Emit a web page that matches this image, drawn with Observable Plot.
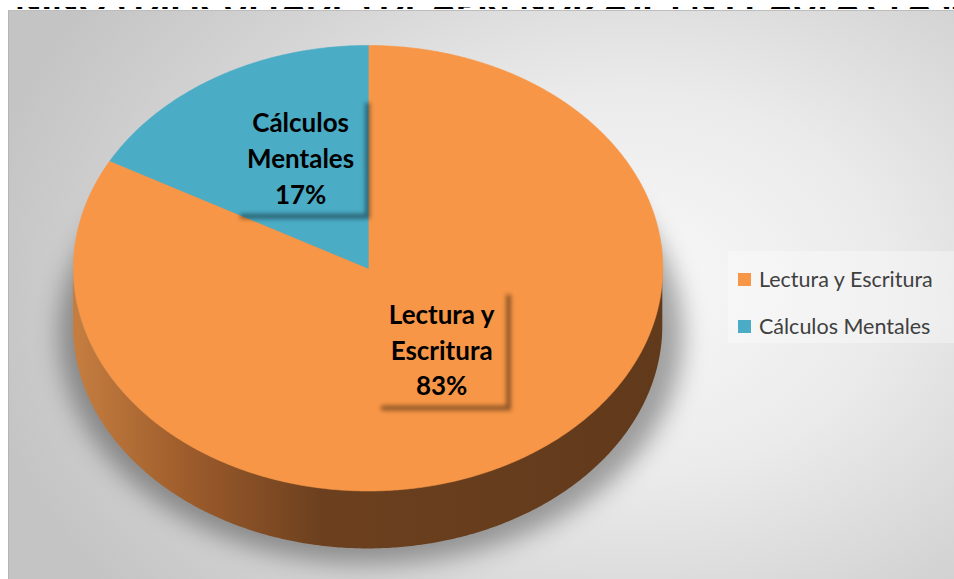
<!DOCTYPE html>
<html><head><meta charset="utf-8">
<script src="https://cdn.jsdelivr.net/npm/d3@7"></script>
<script src="https://cdn.jsdelivr.net/npm/@observablehq/plot@0.6"></script>
<style>
html,body{margin:0;padding:0;background:#fff;width:954px;height:579px;overflow:hidden;font-family:Lato,"Open Sans",sans-serif}
#title{position:absolute;left:0;top:0;width:954px;height:9px;overflow:hidden}
#chart{position:absolute;left:8px;top:10px;width:946px;height:569px;box-sizing:border-box;border-left:1px solid #b5b5b5;border-top:1px solid #bdbdbd;
  background:radial-gradient(ellipse 70% 88% at 66% 48%, #f8f8f8 0%, #ebebeb 38%, #d4d4d4 72%, #c4c4c4 100%);overflow:hidden}
#chart svg{position:absolute;left:0;top:0}
#legend{position:absolute;left:719px;top:240px;width:227px;height:92px;background:rgba(255,255,255,0.35)}
.item{position:absolute;left:10px;display:flex;align-items:center;height:28px;font-size:21.5px;color:#404040;white-space:nowrap}
.sw{width:13px;height:13px;margin-right:8px}
</style></head>
<body>
<div id="title"></div>
<div id="chart"><div id="legend"></div></div>
<script>
const title = "NIÑOS DIFICULTADES DE APRENDIZAJE EN EL AULA CLASE";
const categories = ["Lectura y Escritura", "Cálculos Mentales"];
const values = [83, 17];
const colors = ["#F79646", "#4BACC6"];
const labelNames = ["Lectura y\nEscritura", "Cálculos\nMentales"];

// title (clipped at top like the reference)
document.getElementById("title").innerHTML =
  `<svg width="954" height="9"><text x="15" y="7.5" font-family="Lato" font-weight="900" font-size="30" textLength="955" lengthAdjust="spacingAndGlyphs" fill="#000">${title}</text></svg>`;

// geometry (pixels inside the plot svg)
const W = 946, H = 569;
const cx = 359, cy = 257, rx = 295, ry = 223, depth = 58;
const d = depth / ry;
const total = d3.sum(values);

let acc = 0;
const slices = categories.map((c, i) => {
  const a0 = acc / total * 2 * Math.PI; acc += values[i];
  const a1 = acc / total * 2 * Math.PI;
  return {c, i, a0, a1, v: values[i]};
});

const step = Math.PI / 360;
const facePts = slices.flatMap(s => {
  const n = Math.max(2, Math.ceil((s.a1 - s.a0) / step));
  const pts = [{c: s.c, x: 0, y: 0}];
  for (let k = 0; k <= n; k++) { const a = s.a0 + (s.a1 - s.a0) * k / n; pts.push({c: s.c, x: Math.sin(a), y: Math.cos(a)}); }
  return pts;
});

const sidePts = slices.flatMap(s => {
  const lo = Math.max(s.a0, Math.PI / 2), hi = Math.min(s.a1, 3 * Math.PI / 2);
  if (hi <= lo) return [];
  const n = Math.max(2, Math.ceil((hi - lo) / step));
  const pts = [];
  for (let k = 0; k <= n; k++) { const a = lo + (hi - lo) * k / n; pts.push({c: s.c, x: Math.sin(a), y1: Math.cos(a), y2: Math.cos(a) - d}); }
  return pts;
});

// soft shadow under the pie
const shadowPts = d3.range(0, 2 * Math.PI, step).map(a => ({
  x: 3 / rx + (312 / rx) * Math.sin(a),
  y: -66 / ry + (230 / ry) * Math.cos(a)
}));

// labels
const labels = slices.map((s, i) => {
  const m = (s.a0 + s.a1) / 2;
  return {c: s.c, text: `${labelNames[i]}\n${Math.round(s.v / total * 100)}%`,
          x: 0.47 * Math.sin(m) + 3 / rx, y: 0.5 * Math.cos(m) + 16 / ry};
});
const hw = 65 / rx, hh = 58 / ry, sx = 5 / rx, sy = 5 / ry;
const boxShadows = labels.flatMap(l => [
  {x1: l.x + hw, x2: l.x + hw + sx, y1: l.y + hh - sy, y2: l.y - hh - sy},
  {x1: l.x - hw + sx, x2: l.x + hw, y1: l.y - hh, y2: l.y - hh - sy}
]);

const svg = Plot.plot({
  width: W, height: H, margin: 0,
  style: {background: "transparent", overflow: "visible"},
  x: {domain: [-1, 1], range: [cx - rx, cx + rx], axis: null},
  y: {domain: [-1, 1], range: [cy + ry, cy - ry], axis: null},
  color: {domain: categories, range: colors},
  marks: [
    Plot.line(shadowPts, {x: "x", y: "y", fill: "#000", fillOpacity: 0.34, stroke: "none", curve: "linear-closed"}),
    Plot.areaY(sidePts, {x: "x", y1: "y1", y2: "y2", z: "c", fill: "url(#sideGrad)", stroke: "none"}),
    Plot.line(facePts, {x: "x", y: "y", z: "c", fill: "c", stroke: "c", strokeWidth: 0.6, curve: "linear-closed"}),
    Plot.rect(boxShadows, {x1: "x1", x2: "x2", y1: "y1", y2: "y2", fill: "#000", fillOpacity: 0.42}),
    Plot.text(labels, {x: "x", y: "y", text: "text", fontSize: 26, fontWeight: "bold", fontFamily: "Lato", lineHeight: 1.38, fill: "#000"})
  ]
});

const NS = "http://www.w3.org/2000/svg";
const defs = document.createElementNS(NS, "defs");
defs.innerHTML = `
  <linearGradient id="sideGrad" x1="0" x2="1" y1="0" y2="0">
    <stop offset="0" stop-color="#c67e40"/><stop offset="0.2" stop-color="#9c5b2b"/>
    <stop offset="0.42" stop-color="#6c401f"/><stop offset="1" stop-color="#613a1b"/>
  </linearGradient>
  <filter id="blurBig" filterUnits="userSpaceOnUse" x="0" y="0" width="${W}" height="${H}"><feGaussianBlur stdDeviation="12"/></filter>
  <filter id="blurSmall" filterUnits="userSpaceOnUse" x="0" y="0" width="${W}" height="${H}"><feGaussianBlur stdDeviation="2.2"/></filter>`;
svg.insertBefore(defs, svg.firstChild);
const groups = Array.from(svg.children).filter(n => n.tagName.toLowerCase() === "g");
groups[0].setAttribute("filter", "url(#blurBig)");
groups[0].style.filter = "blur(12px)";
groups[3].setAttribute("filter", "url(#blurSmall)");
groups[3].style.filter = "blur(2.2px)";

document.getElementById("chart").insertBefore(svg, document.getElementById("legend"));

// legend
const legend = document.getElementById("legend");
categories.forEach((c, i) => {
  const it = document.createElement("div");
  it.className = "item";
  it.style.top = (14 + i * 47) + "px";
  it.innerHTML = `<div class="sw" style="background:${colors[i]}"></div><span>${c}</span>`;
  legend.appendChild(it);
});
</script>
</body></html>
